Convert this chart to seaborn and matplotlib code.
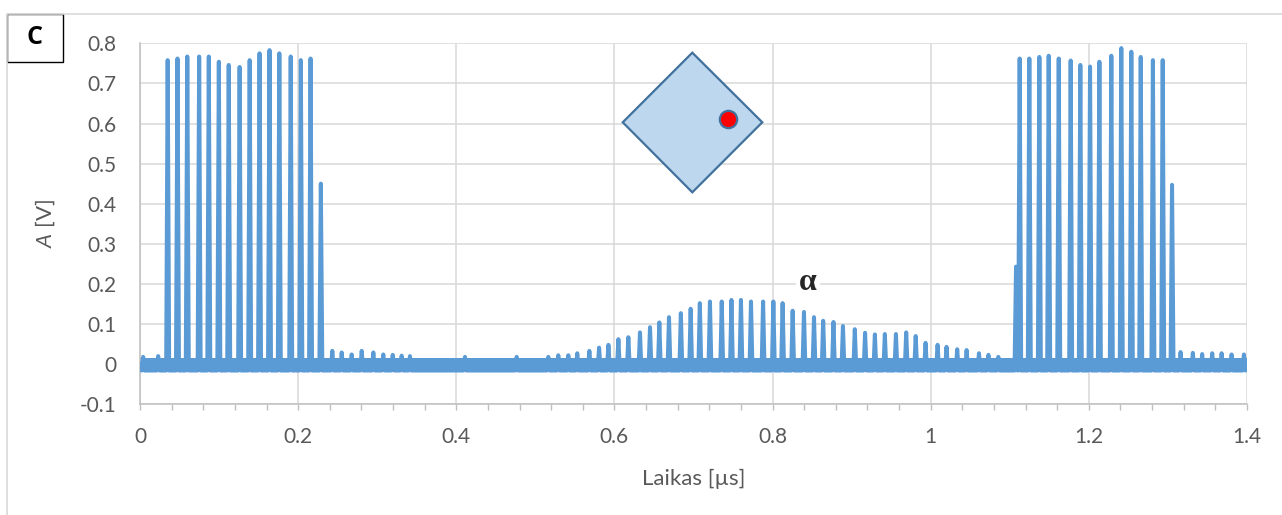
import numpy as np
import pandas as pd
import matplotlib
matplotlib.use("Agg")
import matplotlib.pyplot as plt
import seaborn as sns
from matplotlib.patches import Polygon, Rectangle
from matplotlib.ticker import FixedLocator, FixedFormatter, MultipleLocator

# ---- signal peaks: time [µs] and amplitude [V] ----
# first echo burst
burst1_t = [0.0350, 0.0474, 0.0598, 0.0748, 0.0870, 0.0997, 0.1122, 0.1260,
            0.1387, 0.1512, 0.1638, 0.1762, 0.1906, 0.2034, 0.2157, 0.2287]
burst1_a = [0.758, 0.762, 0.767, 0.767, 0.767, 0.754, 0.746, 0.741,
            0.758, 0.775, 0.783, 0.775, 0.767, 0.758, 0.762, 0.450]

# ringing after the first burst
ring1_t = [0.2432, 0.2551, 0.2677, 0.2804, 0.2951, 0.3077, 0.3196, 0.3309, 0.3414]
ring1_a = [0.033, 0.029, 0.024, 0.033, 0.029, 0.024, 0.023, 0.021, 0.020]

# scattered wave from the defect (alpha)
alpha_t = [0.5164, 0.5290, 0.5417, 0.5530, 0.5683, 0.5806, 0.5924, 0.6050,
           0.6176, 0.6323, 0.6450, 0.6568, 0.6690, 0.6840, 0.6964, 0.7080,
           0.7208, 0.7357, 0.7480, 0.7600, 0.7727, 0.7880, 0.8010, 0.8127,
           0.8254, 0.8397, 0.8524, 0.8640, 0.8770, 0.8890, 0.9040, 0.9170,
           0.9294, 0.9420, 0.9560, 0.9690, 0.9810, 0.9935, 1.0087, 1.0200,
           1.0335, 1.0454, 1.0610, 1.0730, 1.0855]
alpha_a = [0.018, 0.022, 0.022, 0.027, 0.033, 0.041, 0.048, 0.062,
           0.067, 0.079, 0.092, 0.104, 0.117, 0.127, 0.138, 0.152,
           0.156, 0.156, 0.160, 0.160, 0.156, 0.156, 0.156, 0.152,
           0.133, 0.130, 0.117, 0.108, 0.105, 0.095, 0.087, 0.078,
           0.074, 0.075, 0.075, 0.079, 0.070, 0.053, 0.048, 0.043,
           0.037, 0.035, 0.027, 0.023, 0.018]

# second echo burst
burst2_t = [1.1079, 1.1125, 1.1247, 1.1374, 1.1492, 1.1619, 1.1770, 1.1892,
            1.2015, 1.2133, 1.2284, 1.2410, 1.2537, 1.2656, 1.2810, 1.2934, 1.3052]
burst2_a = [0.243, 0.762, 0.762, 0.766, 0.769, 0.762, 0.757, 0.746,
            0.742, 0.754, 0.769, 0.788, 0.779, 0.766, 0.758, 0.758, 0.447]

# ringing after the second burst
ring2_t = [1.3160, 1.3315, 1.3433, 1.3560, 1.3679, 1.3805, 1.3961]
ring2_a = [0.030, 0.028, 0.025, 0.027, 0.027, 0.024, 0.024]

# small bumps on the noise floor
bump_t = [0.0040, 0.0230, 0.4110, 0.4764]
bump_a = [0.018, 0.020, 0.018, 0.018]

# noise floor band [V]
noise_hi = 0.014
noise_lo = -0.015
pulse_foot = -0.016

x_ticks = [0, 0.2, 0.4, 0.6, 0.8, 1.0, 1.2, 1.4]
x_labels = ["0", "0.2", "0.4", "0.6", "0.8", "1", "1.2", "1.4"]
y_ticks = [-0.1, 0, 0.1, 0.2, 0.3, 0.4, 0.5, 0.6, 0.7, 0.8]
y_labels = ["-0.1", "0", "0.1", "0.2", "0.3", "0.4", "0.5", "0.6", "0.7", "0.8"]

# ---- build the trace: each peak is a narrow spike from the noise floor ----
peaks = sorted(zip(burst1_t + ring1_t + alpha_t + burst2_t + ring2_t + bump_t,
                   burst1_a + ring1_a + alpha_a + burst2_a + ring2_a + bump_a))
half_w = 0.0019
tt, vv = [0.0], [0.0]
for t, a in peaks:
    tt += [t - half_w, t, t + half_w]
    vv += [pulse_foot, a, pulse_foot]
tt.append(1.4)
vv.append(0.0)
trace = pd.DataFrame({"t": tt, "v": vv})

# ---- style ----
sns.set_style("white")
plt.rcParams["font.family"] = ["Lato", "DejaVu Sans"]
plt.rcParams["mathtext.fontset"] = "custom"
plt.rcParams["mathtext.it"] = "Lato:italic"
plt.rcParams["mathtext.rm"] = "Lato"

blue = "#5B9BD5"
grid_c = "#D9D9D9"
text_c = "#595959"

fig = plt.figure(figsize=(12.82, 5.15), dpi=100)
ax = fig.add_axes([140 / 1282, 1 - 404.2 / 515, 1107 / 1282, (404.2 - 43.3) / 515])

ax.fill_between([0, 1.4], noise_lo, noise_hi, color=blue, lw=0, zorder=2)
sns.lineplot(data=trace, x="t", y="v", sort=False, estimator=None,
             color=blue, lw=2.9, ax=ax, zorder=3)

ax.set_xlim(0, 1.4)
ax.set_ylim(-0.1, 0.8)
ax.xaxis.set_major_locator(FixedLocator(x_ticks))
ax.xaxis.set_major_formatter(FixedFormatter(x_labels))
ax.xaxis.set_minor_locator(MultipleLocator(0.04))
ax.yaxis.set_major_locator(FixedLocator(y_ticks))
ax.yaxis.set_major_formatter(FixedFormatter(y_labels))

ax.grid(True, color=grid_c, lw=1.1, zorder=0)
ax.set_axisbelow(True)
for s in ["top", "right"]:
    ax.spines[s].set_visible(False)
for s in ["left", "bottom"]:
    ax.spines[s].set_color("#BFBFBF")
    ax.spines[s].set_linewidth(1.1)

ax.tick_params(axis="x", which="both", direction="out", length=4.5, width=1.0,
               color="#BFBFBF", labelsize=15, labelcolor=text_c, pad=12,
               bottom=True)
ax.tick_params(axis="y", which="both", length=0, labelsize=15,
               labelcolor=text_c, pad=17)

ax.set_xlabel("Laikas [µs]", fontsize=16, color=text_c, labelpad=16)
ax.set_ylabel(r"$\it{A}$ [V]", fontsize=16, color=text_c, labelpad=16)

# defect sketch: diamond with the red sensor dot
diamond = Polygon([(0.6985, 0.7766), (0.7870, 0.603), (0.6985, 0.4284), (0.6105, 0.603)],
                  closed=True, facecolor="#BDD7EE", edgecolor="#41719C", lw=1.6, zorder=5)
ax.add_patch(diamond)
ax.plot([0.744], [0.611], marker="o", ms=12.5, mfc="#FF0000", mec="#41719C",
        mew=1.6, zorder=6)

ax.text(0.845, 0.203, "α", fontsize=23, fontweight="bold",
        family=["Liberation Serif", "DejaVu Serif"], ha="center", va="center",
        bbox=dict(facecolor="white", edgecolor="none", pad=2), zorder=6)

# chart frame and panel letter
fig.add_artist(plt.Line2D([7 / 1282, 1.0], [1 - 13.5 / 515, 1 - 13.5 / 515],
                          transform=fig.transFigure, color=grid_c, lw=1.2))
fig.add_artist(plt.Line2D([7 / 1282, 7 / 1282], [0, 1 - 13.5 / 515],
                          transform=fig.transFigure, color=grid_c, lw=1.2))
fig.add_artist(Rectangle((7 / 1282, 1 - 62.3 / 515), 56 / 1282, 48 / 515,
                         transform=fig.transFigure, facecolor="white",
                         edgecolor="black", lw=1.0))
fig.text(35 / 1282, 1 - 38 / 515, "C", fontsize=18, fontweight="bold",
         family=["Open Sans", "DejaVu Sans"], color="black",
         ha="center", va="center")

fig.savefig("out.png", dpi=100)
